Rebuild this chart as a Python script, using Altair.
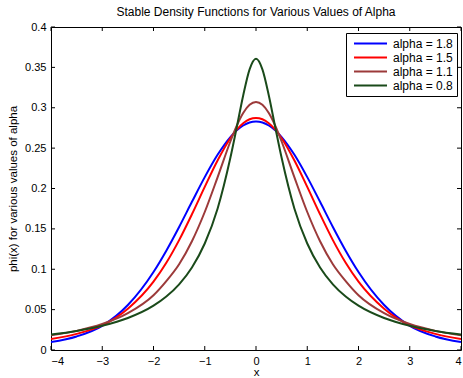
import altair as alt
import pandas as pd

# ---- data ----
x_vals = [-4, -3.5, -3, -2.5, -2, -1.75, -1.5, -1.25, -1, -0.75, -0.5, -0.375, -0.25, -0.125,
          0, 0.125, 0.25, 0.375, 0.5, 0.75, 1, 1.25, 1.5, 1.75, 2, 2.5, 3, 3.5, 4]

alpha_18 = [0.0098, 0.0168, 0.0300, 0.0557, 0.0966, 0.1230, 0.1524, 0.1835, 0.2141, 0.2417, 0.2637, 0.2720, 0.2780, 0.2817,
            0.2829, 0.2817, 0.2780, 0.2720, 0.2637, 0.2417, 0.2141, 0.1835, 0.1524, 0.1230, 0.0966, 0.0557, 0.0300, 0.0168, 0.0098]
alpha_15 = [0.0136, 0.0200, 0.0305, 0.0511, 0.0846, 0.1080, 0.1361, 0.1681, 0.2020, 0.2347, 0.2623, 0.2729, 0.2808, 0.2857,
            0.2873, 0.2857, 0.2808, 0.2729, 0.2623, 0.2347, 0.2020, 0.1681, 0.1361, 0.1080, 0.0846, 0.0511, 0.0305, 0.0200, 0.0136]
alpha_11 = [0.0181, 0.0237, 0.0322, 0.0456, 0.0678, 0.0853, 0.1062, 0.1347, 0.1709, 0.2138, 0.2582, 0.2778, 0.2935, 0.3037,
            0.3072, 0.3037, 0.2935, 0.2778, 0.2582, 0.2138, 0.1709, 0.1347, 0.1062, 0.0853, 0.0678, 0.0456, 0.0322, 0.0237, 0.0181]
alpha_08 = [0.0191, 0.0236, 0.0300, 0.0396, 0.0549, 0.0662, 0.0813, 0.1022, 0.1319, 0.1750, 0.2380, 0.2760, 0.3152, 0.3476,
            0.3607, 0.3476, 0.3152, 0.2760, 0.2380, 0.1750, 0.1319, 0.1022, 0.0813, 0.0662, 0.0549, 0.0396, 0.0300, 0.0236, 0.0191]

series_names = ["alpha = 1.8", "alpha = 1.5", "alpha = 1.1", "alpha = 0.8"]
series_colors = ["#0000ff", "#ff0000", "#9c3a3a", "#1a4a1a"]

x_ticks = [-4, -3, -2, -1, 0, 1, 2, 3, 4]
y_ticks = [0, 0.05, 0.1, 0.15, 0.2, 0.25, 0.3, 0.35, 0.4]

FONT = "Liberation Sans"
W, H = 410, 323

rows = []
for name, vals in zip(series_names, [alpha_18, alpha_15, alpha_11, alpha_08]):
    for i, (xv, yv) in enumerate(zip(x_vals, vals)):
        rows.append({"series": name, "idx": i, "x": xv, "y": yv})
df = pd.DataFrame(rows)

xs = alt.Scale(domain=[-4, 4], nice=False, zero=False)
ys = alt.Scale(domain=[0, 0.4], nice=False, zero=False)

color_enc = alt.Color(
    "series:N",
    scale=alt.Scale(domain=series_names, range=series_colors),
    sort=series_names,
    legend=alt.Legend(
        title=None, orient="none", legendX=295, legendY=6, direction="vertical",
        symbolType="M-3,0H3", symbolSize=121, symbolStrokeWidth=2, symbolOffset=14,
        labelFont=FONT, labelFontSize=12, labelColor="black", labelOffset=16,
        padding=4, rowPadding=1, strokeColor="black", fillColor="white",
    ),
)

x_axis = alt.Axis(values=x_ticks, format="~g", title="x", grid=False, domain=False, ticks=False,
                  labelPadding=5, labelFont=FONT, labelFontSize=11, labelColor="black",
                  titleFont=FONT, titleFontSize=11.5, titleFontWeight="normal", titleColor="black",
                  titleY=22, titleBaseline="middle")
y_axis = alt.Axis(values=y_ticks, format="~g", title="phi(x) for various values of alpha", grid=False,
                  domain=False, ticks=False, labelPadding=5, labelFont=FONT, labelFontSize=11,
                  labelColor="black", titleFont=FONT, titleFontSize=11.5, titleFontWeight="normal",
                  titleColor="black", titleX=-38, titleY=H / 2, titleBaseline="middle", titleAngle=-90)

layers = []
for name in series_names:
    layers.append(
        alt.Chart(df).transform_filter(alt.datum.series == name)
        .mark_line(strokeWidth=2, interpolate="monotone", clip=True)
        .encode(
            x=alt.X("x:Q", scale=xs, axis=x_axis),
            y=alt.Y("y:Q", scale=ys, axis=y_axis),
            color=color_enc,
            order="idx:Q",
        )
    )

tx = pd.DataFrame({"t": x_ticks})
ty = pd.DataFrame({"t": y_ticks})
TL = 4
tick_bottom = alt.Chart(tx).mark_rule(color="black", strokeWidth=1).encode(
    x=alt.X("t:Q", scale=xs, axis=x_axis), y=alt.value(H), y2=alt.value(H - TL))
tick_top = alt.Chart(tx).mark_rule(color="black", strokeWidth=1).encode(
    x=alt.X("t:Q", scale=xs, axis=x_axis), y=alt.value(0), y2=alt.value(TL))
tick_left = alt.Chart(ty).mark_rule(color="black", strokeWidth=1).encode(
    y=alt.Y("t:Q", scale=ys, axis=y_axis), x=alt.value(0), x2=alt.value(TL))
tick_right = alt.Chart(ty).mark_rule(color="black", strokeWidth=1).encode(
    y=alt.Y("t:Q", scale=ys, axis=y_axis), x=alt.value(W), x2=alt.value(W - TL))

chart = alt.layer(*layers, tick_bottom, tick_top, tick_left, tick_right).properties(
    width=W, height=H,
    title=alt.Title("Stable Density Functions for Various Values of Alpha", font=FONT, fontSize=12,
                    fontWeight="normal", color="black", anchor="middle", offset=2),
    autosize=alt.AutoSizeParams(type="none"),
    padding={"left": 51, "top": 27, "right": 2, "bottom": 28},
    background="white",
).configure_view(stroke="black", strokeWidth=1)

chart.save("out.html", embed_options={"renderer": "svg", "actions": False})
